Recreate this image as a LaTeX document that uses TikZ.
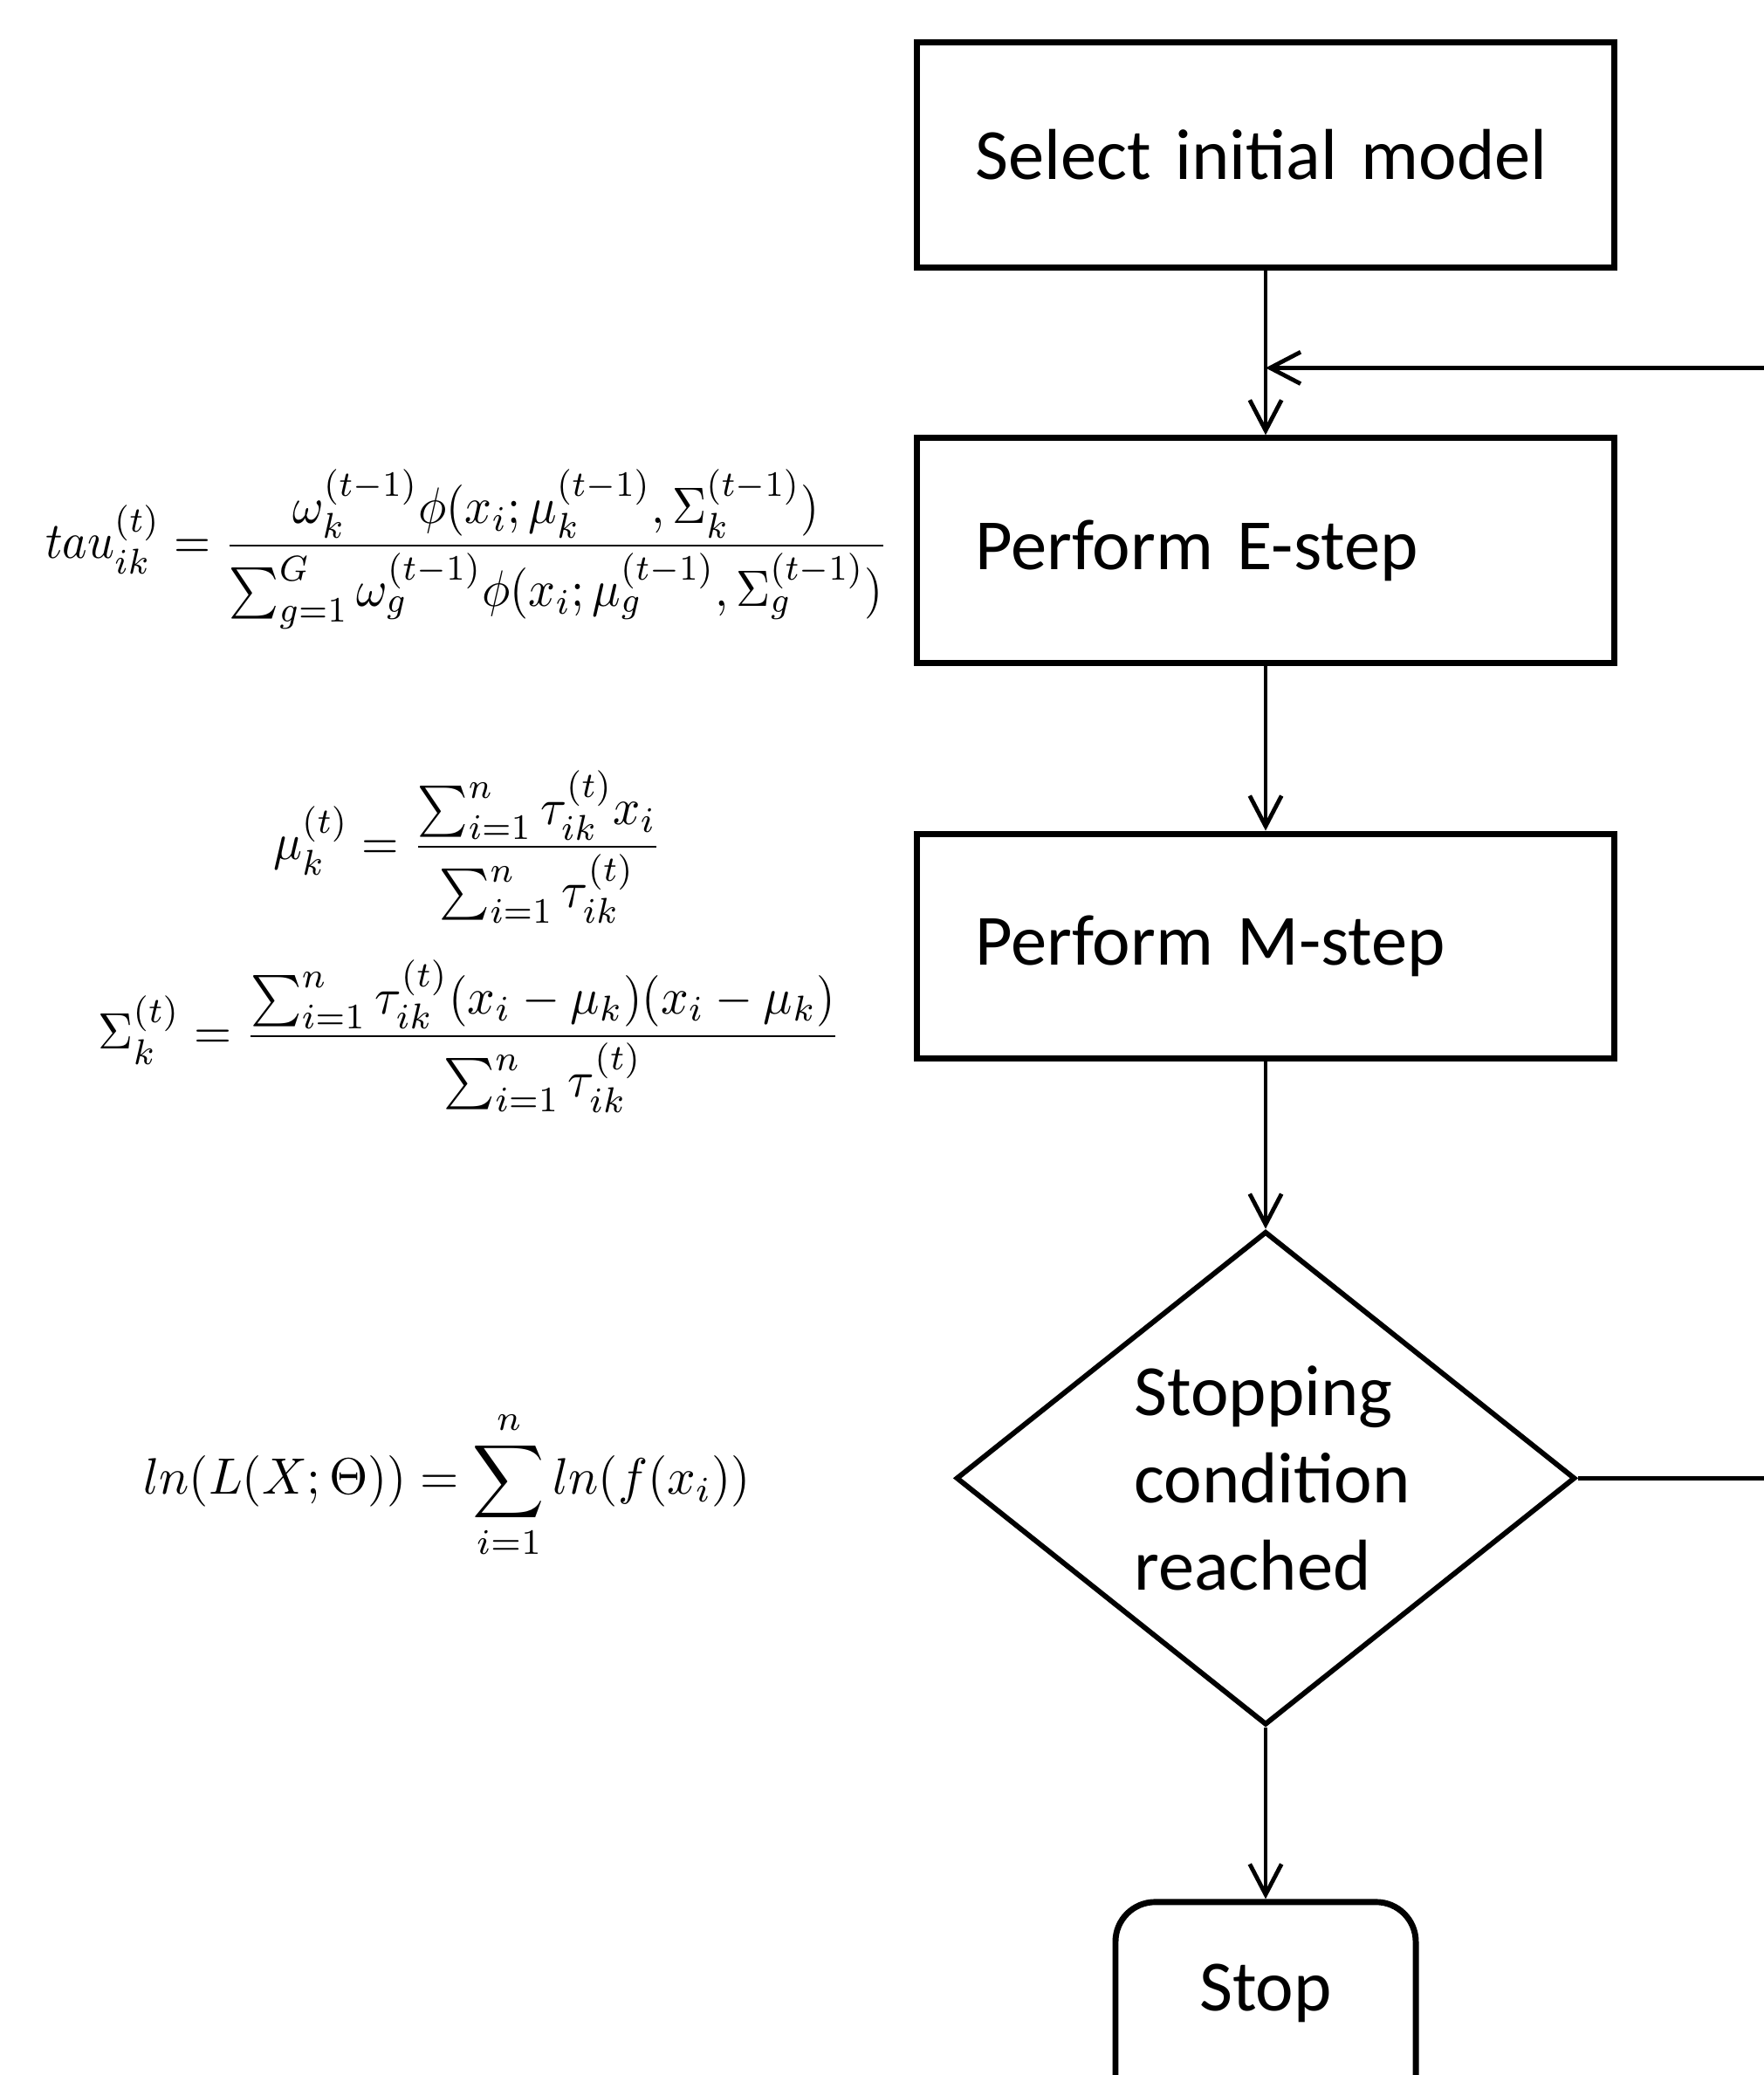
\documentclass[tikz,border=0pt]{standalone}
\usepackage{graphicx}
\usepackage{fontspec}
\newfontfamily\calib{Carlito}
\usetikzlibrary{shapes.geometric,arrows.meta}
\newcommand{\mathbig}[2]{\scalebox{#1}[2.2]{$\displaystyle #2$}}
\begin{document}
\begin{tikzpicture}[x=0.02cm,y=-0.02cm,
  boxfont/.style={font=\calib\fontsize{31}{37.5}\selectfont},
  proc/.style={boxfont, draw, line width=2.6pt, minimum width=10.54cm, minimum height=3.4cm,
    text width=8.78cm, inner xsep=0.88cm, align=left},
  decision/.style={boxfont, draw, line width=2.2pt, shape=diamond, aspect=1.25, inner sep=0pt,
    minimum width=9.36cm, minimum height=7.46cm, align=left},
  term/.style={boxfont, draw, line width=2.6pt, rounded corners=0.6cm, minimum width=4.54cm,
    inner ysep=0.94cm, text depth=1.2cm, anchor=north},
  conn/.style={line width=1.8pt},
  arr/.style={conn, -{Straight Barb[length=0.46cm,width=0.48cm]}},
  mathnode/.style={inner sep=0pt}
]
\useasboundingbox (0,0) rectangle (1333,1568);

% flowchart
\node[proc] (sel) at (956.5,117) {Select initial model};
\node[proc] (estep) at (956.5,416) {Perform E-step};
\node[proc] (mstep) at (956.5,715) {Perform M-step};
\node[decision] (dec) at (956.5,1117) {Stopping\\condition\kern-0.2cm\\reached};
\node[term] (stop) at (956.5,1435) {Stop};

\coordinate (join) at (956.5,278);
\coordinate (loopR) at (1400,1117);

\draw[arr] (sel) -- (estep);
\draw[arr] (estep) -- (mstep);
\draw[arr] (mstep) -- (dec);
\draw[arr] (dec) -- (stop.north);
\draw[arr] (dec.east) -- (loopR) |- (join);

% formulas
\node[mathnode] (tau) at (353,415) {\mathbig{2.03}{tau_{ik}^{(t)} = \frac{\omega_k^{(t-1)}\phi(x_i;\mu_k^{(t-1)},\Sigma_k^{(t-1)})}{\sum_{g=1}^{G}\omega_g^{(t-1)}\phi(x_i;\mu_g^{(t-1)},\Sigma_g^{(t-1)})}}};
\node[mathnode] (mu) at (353.5,640) {\mathbig{2.05}{\mu_k^{(t)} = \frac{\sum_{i=1}^{n}\tau_{ik}^{(t)}x_i}{\sum_{i=1}^{n}\tau_{ik}^{(t)}}}};
\node[mathnode] (sigma) at (355,783) {\mathbig{2.08}{\Sigma_k^{(t)} = \frac{\sum_{i=1}^{n}\tau_{ik}^{(t)}(x_i-\mu_k)(x_i-\mu_k)}{\sum_{i=1}^{n}\tau_{ik}^{(t)}}}};
\node[mathnode] (lnL) at (338,1122) {\mathbig{2.14}{ln(L(X;\Theta)) = \sum_{i=1}^{n} ln(f(x_i))}};
\end{tikzpicture}
\end{document}
